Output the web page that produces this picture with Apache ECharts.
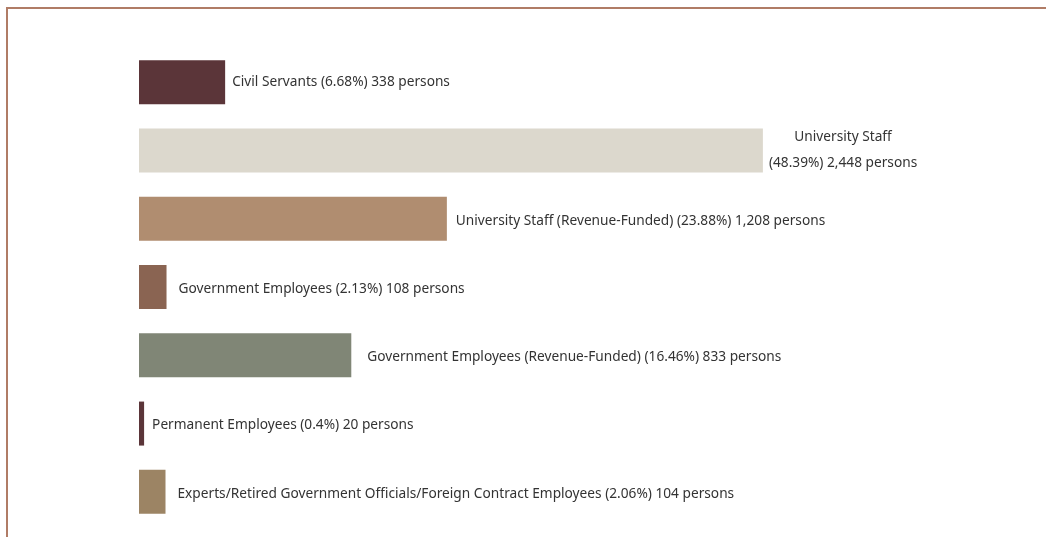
<!DOCTYPE html>
<html>
<head>
<meta charset="utf-8">
<script src="https://cdn.jsdelivr.net/npm/echarts@6/dist/echarts.min.js"></script>
<style>
    html, body { margin: 0; padding: 0; background: #fff; }
    .frame {
        position: absolute;
        left: 6px;
        top: 7px;
        width: 1200px;
        height: 700px;
        border-top: 2px solid #b07c66;
        border-left: 2px solid #b07c66;
    }
    #staffChart {
        position: absolute;
        left: 0;
        top: 0;
        width: 1046px;
        height: 537px;
    }
</style>
</head>
<body>
<div class="frame"></div>
<div id="staffChart"></div>
<script>
// 人员类别
var categories = [
    "Civil Servants",
    "University Staff",
    "University Staff (Revenue-Funded)",
    "Government Employees",
    "Government Employees (Revenue-Funded)",
    "Permanent Employees",
    "Experts/Retired Government Officials/Foreign Contract Employees"
];
var percents = ["6.68", "48.39", "23.88", "2.13", "16.46", "0.4", "2.06"];
var persons = [338, 2448, 1208, 108, 833, 20, 104];
var barColors = ["#5b3539", "#dcd8cd", "#b08d70", "#8a6452", "#808676", "#5b3539", "#9c8464"];
// label gap from bar end (px)
var labelGaps = [7, 6, 9, 12, 16, 8, 12];
// label of this category is split into two lines
var twoLineIndex = 1;

var chartDom = document.getElementById("staffChart");
var mychart = echarts.init(chartDom);

var barData = persons.map(function (v, i) {
    return {
        value: v,
        itemStyle: { color: barColors[i] },
        label: {
            distance: labelGaps[i],
            offset: i < 2 ? [0, 0] : [0, 2]
        }
    };
});

var option = {
    animation: false,
    grid: {
        left: 139,
        right: 15,
        top: 48,
        bottom: 11
    },
    xAxis: {
        type: "value",
        min: 0,
        max: 3500,
        show: false
    },
    yAxis: {
        type: "category",
        inverse: true,
        data: categories,
        show: false
    },
    series: [
        {
            type: "bar",
            data: barData,
            barWidth: 44,
            label: {
                show: true,
                position: "right",
                color: "#333",
                fontFamily: "Noto Sans",
                fontSize: 13.7,
                lineHeight: 26,
                align: "left",
                formatter: function (p) {
                    var i = p.dataIndex;
                    var txt = "(" + percents[i] + "%) " + persons[i].toLocaleString("en-US") + " persons";
                    if (i === twoLineIndex) {
                        return "{c|" + categories[i] + "}\n{c|" + txt + "}";
                    }
                    return categories[i] + " " + txt;
                },
                rich: {
                    c: {
                        align: "center",
                        fontFamily: "Noto Sans",
                        fontSize: 13.7,
                        color: "#333",
                        lineHeight: 26
                    }
                }
            }
        }
    ]
};

option && mychart.setOption(option);
</script>
</body>
</html>
